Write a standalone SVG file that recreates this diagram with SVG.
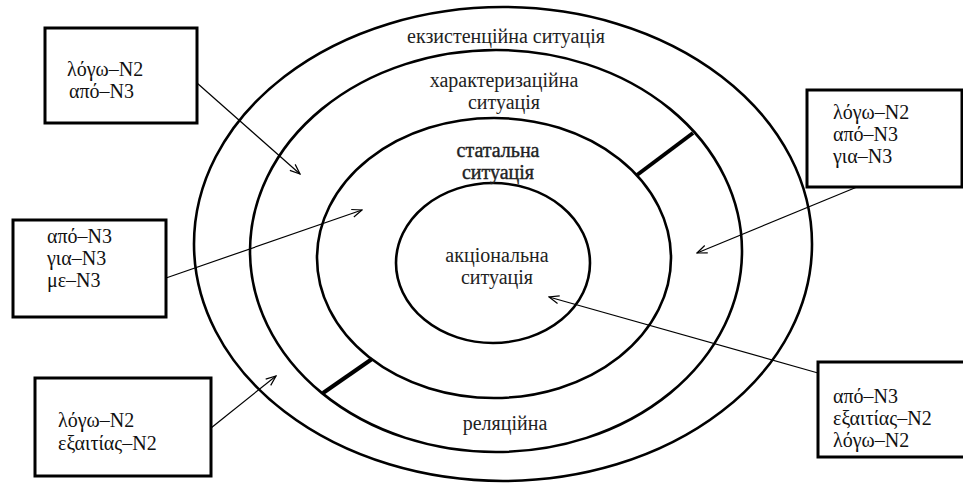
<svg xmlns="http://www.w3.org/2000/svg" width="963" height="484" viewBox="0 0 963 484" font-family="Times New Roman, Liberation Serif, Tinos, Nimbus Roman, DejaVu Serif, Noto Serif, serif">
<style>
.ring{fill:none;stroke:#000;stroke-width:2.6}
.box{fill:#fff;stroke:#000;stroke-width:3}
.sep{stroke:#000;stroke-width:4;stroke-linecap:butt}
.con{fill:none;stroke:#000;stroke-width:1.2}
.t{font-size:20px;fill:#111}
.c{font-size:20px;fill:#222;text-anchor:middle}
.b{stroke:#222;stroke-width:0.4}
</style>
<defs>
<marker id="arr" viewBox="0 0 12 10" refX="11" refY="5" markerWidth="12" markerHeight="10" orient="auto" markerUnits="userSpaceOnUse">
<path d="M1,1 L11,5 L1,9" fill="none" stroke="#000" stroke-width="1.2"/>
</marker>
</defs>
<rect width="963" height="484" fill="#fff"/>
<g id="rings">
<ellipse class="ring" cx="503" cy="244" rx="309" ry="237"/>
<ellipse class="ring" cx="496" cy="251" rx="246" ry="201"/>
<ellipse class="ring" cx="494" cy="258" rx="177" ry="140"/>
<ellipse class="ring" cx="493" cy="263" rx="97" ry="80"/>
<line class="sep" x1="637" y1="175" x2="693" y2="133"/>
<line class="sep" x1="323" y1="393" x2="372" y2="359"/>
</g>
<g id="labels">
<text class="c" x="506" y="43">екзистенційна ситуація</text>
<text class="c" x="504" y="87">характеризаційна</text>
<text class="c" x="504" y="109">ситуація</text>
<text class="c b" x="498" y="157">статальна</text>
<text class="c b" x="498" y="179">ситуація</text>
<text class="c" x="497" y="262">акціональна</text>
<text class="c" x="497" y="284">ситуація</text>
<text class="c" x="505" y="430">реляційна</text>
</g>
<g id="connectors">
<line class="con" x1="197" y1="83" x2="300" y2="174" marker-end="url(#arr)"/>
<line class="con" x1="166" y1="278" x2="362" y2="210" marker-end="url(#arr)"/>
<line class="con" x1="211" y1="428" x2="276" y2="376" marker-end="url(#arr)"/>
<line class="con" x1="857" y1="187" x2="697" y2="253" marker-end="url(#arr)"/>
<line class="con" x1="818" y1="373" x2="549" y2="297" marker-end="url(#arr)"/>
</g>
<g id="box1">
<rect class="box" x="45" y="28" width="152" height="95"/>
<text class="t" x="67" y="76">λόγω–N2</text>
<text class="t" x="69" y="98">από–N3</text>
</g>
<g id="box2">
<rect class="box" x="807" y="90" width="155" height="97"/>
<text class="t" x="833" y="119">λόγω–N2</text>
<text class="t" x="833" y="141">από–N3</text>
<text class="t" x="833" y="163">για–N3</text>
</g>
<g id="box3">
<rect class="box" x="13" y="220" width="153" height="97"/>
<text class="t" x="47" y="243">από–N3</text>
<text class="t" x="47" y="265">για–N3</text>
<text class="t" x="47" y="287">με–N3</text>
</g>
<g id="box4">
<rect class="box" x="35" y="378" width="176" height="98"/>
<text class="t" x="58" y="427">λόγω–N2</text>
<text class="t" x="58" y="450">εξαιτίας–N2</text>
</g>
<g id="box5">
<rect class="box" x="818" y="362" width="160" height="95"/>
<text class="t" x="833" y="403">από–N3</text>
<text class="t" x="833" y="425">εξαιτίας–N2</text>
<text class="t" x="833" y="447">λόγω–N2</text>
</g>
</svg>
